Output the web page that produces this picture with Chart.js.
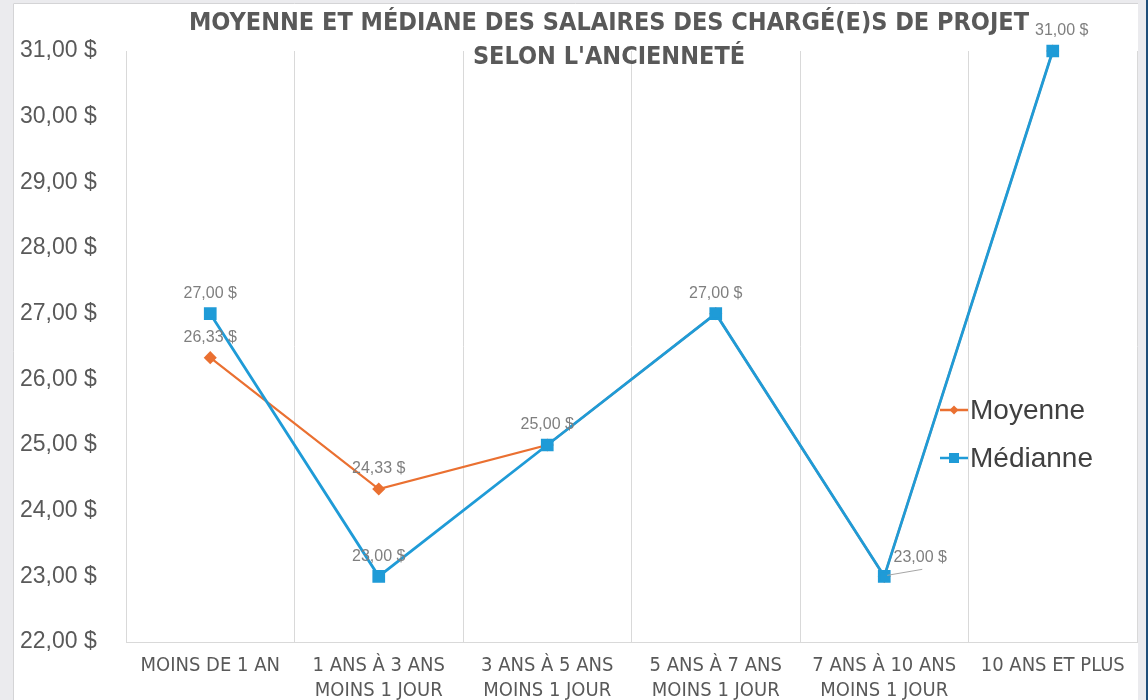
<!DOCTYPE html>
<html>
<head>
<meta charset="utf-8">
<script src="https://cdn.jsdelivr.net/npm/chart.js@4/dist/chart.umd.min.js"></script>
<style>
  html, body { margin: 0; padding: 0; background: #ebebee; }
  #wrap { width: 1148px; height: 700px; }
</style>
</head>
<body>
<div id="wrap"><canvas id="salaires" width="1148" height="700"></canvas></div>
<script>
const categories = [
    ['MOINS DE 1 AN'],
    ['1 ANS À 3 ANS', 'MOINS 1 JOUR'],
    ['3 ANS À 5 ANS', 'MOINS 1 JOUR'],
    ['5 ANS À 7 ANS', 'MOINS 1 JOUR'],
    ['7 ANS À 10 ANS', 'MOINS 1 JOUR'],
    ['10 ANS ET PLUS']
];
const moyenne = [26.33, 24.33, 25.00, 27.00, 23.00, 31.00];
const mediane = [27.00, 23.00, 25.00, 27.00, 23.00, 31.00];
const titleLines = ['MOYENNE ET MÉDIANE DES SALAIRES DES CHARGÉ(E)S DE PROJET', "SELON L'ANCIENNETÉ"];

const orange = '#ea7031';
const blue = '#1f9bd7';
const narrow = '"Liberation Sans Narrow", "DejaVu Sans Condensed", sans-serif';

function money(v) {
    return v.toFixed(2).replace('.', ',') + ' $';
}

// grey page with the white card
const framePlugin = {
    id: 'frame',
    beforeDraw(chart) {
        const ctx = chart.ctx;
        ctx.save();
        ctx.fillStyle = '#ebebee';
        ctx.fillRect(0, 0, chart.width, chart.height);
        ctx.fillStyle = '#ffffff';
        ctx.fillRect(13, 3, 1125, 697);
        ctx.strokeStyle = '#d4d4d6';
        ctx.lineWidth = 1;
        ctx.beginPath();
        ctx.moveTo(13.5, 700);
        ctx.lineTo(13.5, 3.5);
        ctx.lineTo(1138, 3.5);
        ctx.stroke();
        ctx.fillStyle = '#1f4e79';
        ctx.fillRect(1146, 0, 2, 700);
        ctx.restore();
    }
};

// value labels, skipping the mean where it sits under the median
const valueLabels = {
    id: 'valueLabels',
    afterDatasetsDraw(chart, args, opts) {
        const ctx = chart.ctx;
        ctx.save();
        ctx.font = '16px "Liberation Sans", Arial, sans-serif';
        ctx.fillStyle = '#7f7f7f';
        ctx.textAlign = 'center';
        ctx.textBaseline = 'middle';
        chart.data.datasets.forEach((ds, di) => {
            const meta = chart.getDatasetMeta(di);
            meta.data.forEach((pt, i) => {
                if (ds.label === 'Moyenne' && ds.data[i] === mediane[i]) return;
                const off = (opts.offsets[ds.label] || {})[i] || { dx: 0, dy: 0 };
                const x = pt.x + off.dx;
                const y = pt.y - 20 + off.dy;
                if (off.leader) {
                    ctx.strokeStyle = '#a6a6a6';
                    ctx.lineWidth = 1;
                    ctx.beginPath();
                    ctx.moveTo(pt.x + 3, pt.y - 1);
                    ctx.lineTo(x + 2, y + 12);
                    ctx.stroke();
                }
                ctx.fillText(money(ds.data[i]), x, y);
            });
        });
        ctx.restore();
    }
};

// title and legend drawn over the plot, like the original
const overlay = {
    id: 'overlay',
    afterDraw(chart) {
        const ctx = chart.ctx;
        ctx.save();
        ctx.fillStyle = '#595959';
        ctx.textAlign = 'center';
        ctx.textBaseline = 'middle';
        ctx.font = 'bold 25px ' + narrow;
        ctx.fillText(titleLines[0], 609, 23);
        ctx.fillText(titleLines[1], 609, 57);

        ctx.textAlign = 'left';
        ctx.font = '28px "Liberation Sans", Arial, sans-serif';
        chart.data.datasets.forEach((ds, di) => {
            const y = ds.label === 'Moyenne' ? 410 : 458;
            ctx.strokeStyle = ds.borderColor;
            ctx.lineWidth = 2.5;
            ctx.beginPath();
            ctx.moveTo(940, y);
            ctx.lineTo(968, y);
            ctx.stroke();
            ctx.fillStyle = ds.borderColor;
            ctx.beginPath();
            if (ds.label === 'Moyenne') {
                ctx.moveTo(954, y - 4.5); ctx.lineTo(958.5, y); ctx.lineTo(954, y + 4.5); ctx.lineTo(949.5, y);
            } else {
                ctx.rect(949, y - 5, 10, 10);
            }
            ctx.fill();
            ctx.fillStyle = '#404040';
            ctx.fillText(ds.label, 970, y + 1);
        });
        ctx.restore();
    }
};

const ctx = document.getElementById('salaires').getContext('2d');
new Chart(ctx, {
    type: 'line',
    data: {
        labels: categories,
        datasets: [{
            label: 'Moyenne',
            data: moyenne,
            borderColor: orange,
            backgroundColor: orange,
            borderWidth: 2.2,
            pointStyle: 'rectRot',
            pointRadius: 5,
            tension: 0,
            clip: false,
            order: 1
        }, {
            label: 'Médianne',
            data: mediane,
            borderColor: blue,
            backgroundColor: blue,
            borderWidth: 2.8,
            pointStyle: 'rect',
            pointRadius: 7,
            tension: 0,
            clip: false,
            order: 0
        }]
    },
    options: {
        responsive: false,
        animation: false,
        devicePixelRatio: 1,
        layout: { padding: { top: 51, left: 20, right: 11, bottom: 0 } },
        scales: {
            x: {
                offset: true,
                grid: { offset: true, color: '#d9d9d9', drawTicks: false },
                border: { display: true, color: '#d9d9d9' },
                ticks: {
                    padding: 11,
                    maxRotation: 0,
                    color: '#595959',
                    font: { family: narrow, size: 20, lineHeight: 1.25 }
                },
                afterFit(scale) { scale.height = 58; }
            },
            y: {
                min: 22,
                max: 31,
                grid: { display: false },
                border: { display: true, color: '#d9d9d9' },
                ticks: {
                    stepSize: 1,
                    crossAlign: 'far',
                    color: '#595959',
                    font: { family: '"Liberation Sans", Arial, sans-serif', size: 23 },
                    callback: (v) => money(v)
                },
                afterFit(scale) { scale.width = 106; }
            }
        },
        plugins: {
            legend: { display: false },
            tooltip: { enabled: false },
            valueLabels: {
                offsets: {
                    'Médianne': { 4: { dx: 36, dy: 1, leader: true }, 5: { dx: 9, dy: 0 } }
                }
            }
        }
    },
    plugins: [framePlugin, valueLabels, overlay]
});
</script>
</body>
</html>
